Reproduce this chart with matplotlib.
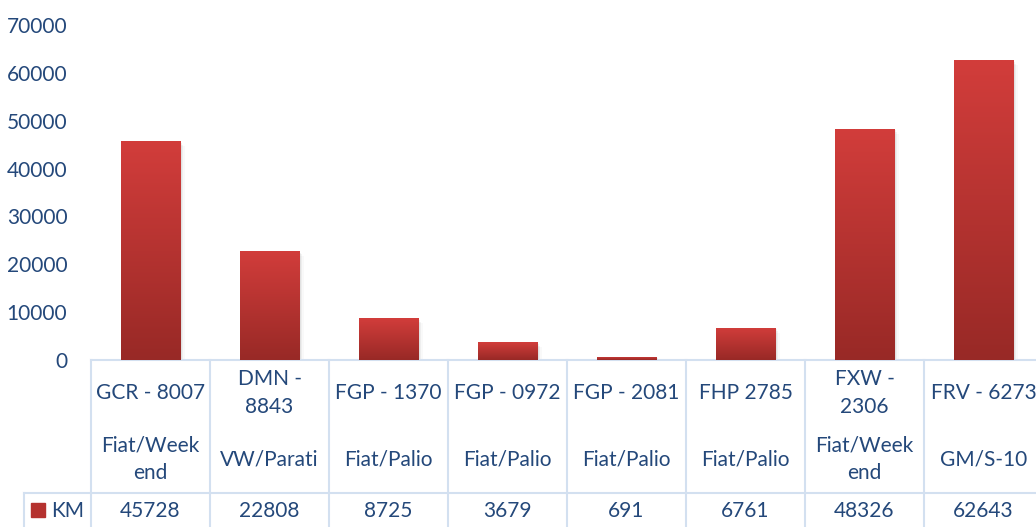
import matplotlib.pyplot as plt
import numpy as np
from matplotlib.patches import Rectangle
from matplotlib.colors import LinearSegmentedColormap

# data
plates = ["GCR - 8007", "DMN -\n8843", "FGP - 1370", "FGP - 0972",
          "FGP - 2081", "FHP 2785", "FXW -\n2306", "FRV - 6273"]
models = ["Fiat/Week\nend", "VW/Parati", "Fiat/Palio", "Fiat/Palio",
          "Fiat/Palio", "Fiat/Palio", "Fiat/Week\nend", "GM/S-10"]
km = [45728, 22808, 8725, 3679, 691, 6761, 48326, 62643]
series_name = "KM"

txt_color = '#24487A'
grid_color = '#D3E0F0'
plt.rcParams['font.family'] = ['Lato', 'DejaVu Sans']
fs = 15

fig = plt.figure(figsize=(10.36, 5.27), dpi=100)
W, H = 1036, 527
# axes: x from 91px to 1043px (cut off at right), y from 25px to 360px
ax = fig.add_axes([91 / W, 1 - 360 / H, (1043 - 91) / W, (360 - 25) / H])

x = np.arange(len(km))
bw = 0.5
red_cmap = LinearSegmentedColormap.from_list('red', ['#982926', '#D23D3B'])
grad = np.linspace(0, 1, 256).reshape(-1, 1)

bars = ax.bar(x, km, width=bw, color='none', edgecolor='none', zorder=3)
for b in bars:
    x0, h = b.get_x(), b.get_height()
    # soft shadow
    for k, a in enumerate([0.10, 0.07, 0.04]):
        off = 0.012 * (k + 1)
        ax.add_patch(Rectangle((x0 + off, -350 * (k + 1)), bw, h, color='#707070',
                               alpha=a, lw=0, zorder=2))
    im = ax.imshow(grad, cmap=red_cmap, origin='lower', aspect='auto',
                   extent=[x0, x0 + bw, 0, h], zorder=3)
    im.set_clip_path(b)

ax.set_xlim(-0.5, len(km) - 0.5)
ax.set_ylim(0, 70000)
ax.set_yticks(np.arange(0, 70001, 10000))
ax.tick_params(axis='y', length=0, pad=17, labelsize=fs, labelcolor=txt_color)
ax.set_xticks([])
for s in ['top', 'right', 'left']:
    ax.spines[s].set_visible(False)
ax.spines['bottom'].set_color(grid_color)
ax.spines['bottom'].set_linewidth(1.5)

# data table under the chart
tr = ax.get_xaxis_transform()
row_line = -(493 - 360) / 335
bottom = -0.6
for i in range(len(km) + 1):
    ax.plot([i - 0.5, i - 0.5], [0, bottom], color=grid_color, lw=1.5,
            transform=tr, clip_on=False)
left_x = (24 - 91) / 119 - 0.5
ax.plot([left_x, len(km) - 0.5], [row_line, row_line], color=grid_color, lw=1.5,
        transform=tr, clip_on=False)
ax.plot([left_x, left_x], [row_line, bottom], color=grid_color, lw=1.5,
        transform=tr, clip_on=False)

for i in range(len(km)):
    ax.text(i, -(393 - 360) / 335, plates[i], transform=tr, ha='center', va='center',
            fontsize=fs, color=txt_color, linespacing=1.5)
    ax.text(i, -(459 - 360) / 335, models[i], transform=tr, ha='center', va='center',
            fontsize=fs, color=txt_color, linespacing=1.5)
    ax.text(i, -(511 - 360) / 335, str(km[i]), transform=tr, ha='center', va='center',
            fontsize=fs, color=txt_color)

# legend key
ax.add_patch(Rectangle(((31 - 91) / 119 - 0.5, -(517 - 360) / 335), 14 / 119, 14 / 335,
                       color='#B5322F', transform=tr, clip_on=False))
ax.text((51 - 91) / 119 - 0.5, -(511 - 360) / 335, series_name, transform=tr,
        ha='left', va='center', fontsize=fs, color=txt_color)

plt.savefig('out.png', dpi=100)
